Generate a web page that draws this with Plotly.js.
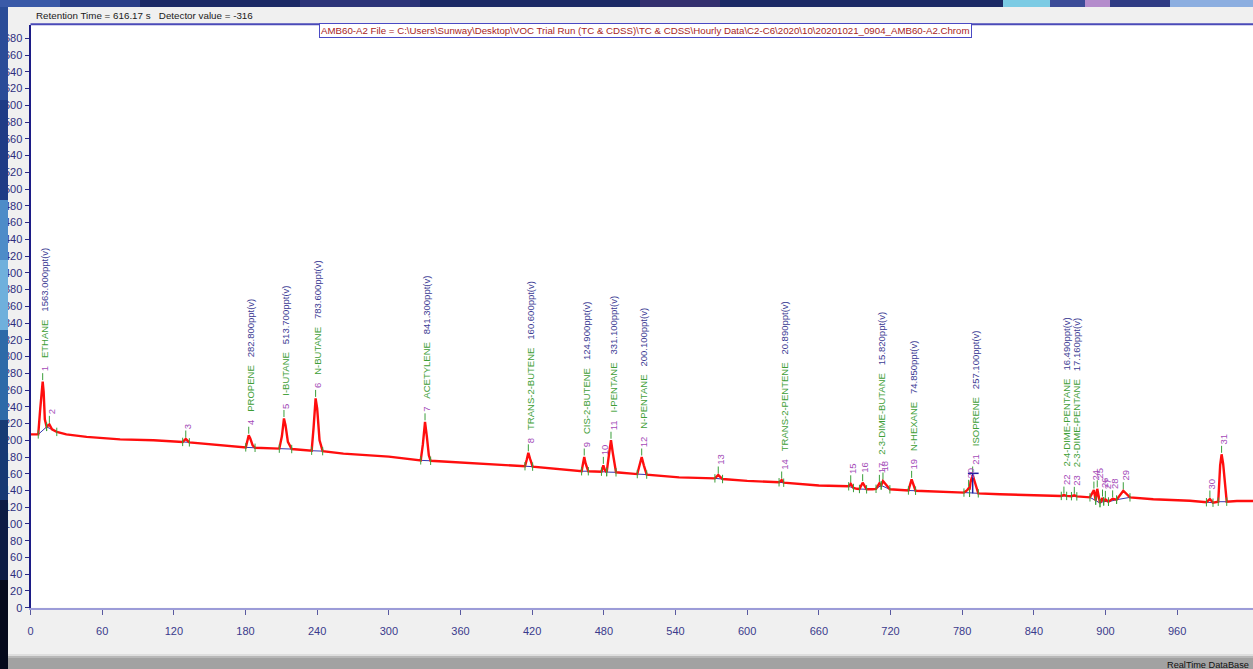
<!DOCTYPE html>
<html>
<head>
<meta charset="utf-8">
<script src="https://cdn.plot.ly/plotly-3.0.1.min.js"></script>
<style>
  html, body { margin: 0; padding: 0; background: #f0f0f0; overflow: hidden; }
  #chart { width: 1253px; height: 669px; }
</style>
</head>
<body>
<div id="chart"></div>
<script>
// ---- Chromatogram trace (retention time s, detector value) ----
const time = [0, 3, 6.5, 8, 9.3, 10.2, 11, 12, 13.5, 15.8, 18, 22, 30, 47, 75, 103,
  127.4, 130, 133, 158.6, 180.2, 181.7, 182.7, 184, 186, 188, 208.3, 210.5, 212.2, 213.5, 215.5, 218.7,
  235.4, 237, 238.7, 240, 242, 244.6, 262, 300, 326.7, 328.5, 330.3, 331.8, 333.5, 335, 365,
  414, 415.5, 416.8, 418.2, 420.4, 461.4, 462.8, 463.6, 464.8, 467, 478, 479.6, 481, 482.4, 484.5, 486, 487.5, 490.2,
  508, 510, 511.7, 513.5, 515.9, 543, 573, 575.8, 579.4, 600, 626.7, 628.9, 630.6, 660, 683, 685, 686.7, 689, 692,
  694, 696.7, 700, 705, 707.9, 710.7, 712.2, 713.7, 716.5, 719.5, 735, 737.7, 741, 760, 781.5, 784, 785.4, 786.2, 787, 788.8, 790.5, 793.5,
  811.6, 840, 863, 865.2, 867.5, 871.5, 873.9, 876, 887, 890.3, 891.8, 893.1, 895.4, 897.5, 898.5, 899.9, 902.5, 906, 909.3, 914.9, 920.5,
  940, 970.7, 984.5, 987.4, 990, 994.4, 996, 997.2, 998.5, 1001.5, 1010, 1023.5];
const signal = [207, 207, 207, 235, 262, 270, 258, 225, 216, 219, 213, 210, 207, 204, 201, 200,
  198, 201.5, 197.5, 194, 191.5, 200, 206, 202, 194, 191, 190, 205, 226, 218, 198, 189.5,
  187.5, 215, 250, 238, 200, 187, 184, 180.5, 176, 195, 222, 205, 182, 175.5, 173,
  169, 177, 185, 178, 168.5, 163, 172, 180, 172, 163, 162.5, 170, 164, 162, 185, 200, 185, 161.7,
  159.6, 172, 180, 170, 159, 155.7, 154.5, 158.5, 153.7, 151.5, 149.8, 152.5, 149.3, 146, 145.3, 145, 148, 143, 142,
  141.8, 149.3, 141.4, 141.5, 142, 148.5, 146, 151.3, 147, 141.4, 140, 153.3, 139.7, 138.5, 137.5, 140, 142.6, 141, 150, 158.5, 150, 136.6,
  135.5, 134.5, 133.5, 134.5, 133.5, 133.2, 134.2, 133, 131.8, 140.5, 128, 142, 125, 131, 127, 129.4, 126.6, 130, 129, 139.7, 131.8,
  129.5, 127.8, 126, 129.8, 125.4, 126.6, 170, 183.2, 172, 126.6, 127.5, 127.5];

// ---- Integrated peaks ----
const peakNumber = [1,2,3,4,5,6,7,8,9,10,11,12,13,14,15,16,17,18,19,20,21,22,23,24,25,26,27,28,29,30,31];
const peakApexTime = [10.2, 15.8, 130, 182.7, 212.2, 238.7, 330.3, 416.8, 463.6, 479.6, 486, 511.7, 575.8, 628.9, 686.7, 696.7,
  710.7, 713.7, 737.7, 785.4, 788.8, 865.2, 873.9, 890.3, 893.1, 897.5, 899.9, 906, 914.9, 987.4, 997.2];
const peakApexValue = [270, 219, 201.5, 206, 226, 250, 222, 185, 180, 170, 200, 180, 158.5, 152.5, 148, 149.3,
  148.5, 151.3, 153.3, 142.6, 158.5, 134.5, 134.2, 140.5, 142, 131, 129.4, 130, 139.7, 129.8, 183.2];
const peakStartTime = [6.5, 13.5, 127.4, 180.2, 208.3, 235.4, 326.7, 414, 461.4, 478, 482.4, 508, 573, 626.7, 685, 694,
  707.9, 712.2, 735, 781.5, 786.2, 863, 871.5, 887, 891.8, 895.4, 898.5, 902.5, 909.3, 984.5, 994.4];
const peakStartValue = [207, 216, 198, 191.5, 190, 187.5, 176, 169, 163, 162.5, 162, 159.6, 154.5, 149.8, 145, 141.8,
  142, 146, 140, 137.5, 137.2, 133.5, 133.2, 131.8, 128, 125, 127, 126.6, 129, 126, 126.6];
const peakEndTime = [13.5, 22, 133, 188, 218.7, 244.6, 335, 420.4, 467, 482.4, 490.2, 515.9, 579.4, 630.6, 689, 700,
  712.2, 719.5, 741, 786.2, 793.5, 867.5, 876, 891.8, 895.4, 898.5, 902.5, 909.3, 920.5, 990, 1001.5];
const peakEndValue = [216, 210, 197.5, 191, 189.5, 187, 175.5, 168.5, 163, 162, 161.7, 159, 153.7, 149.3, 143, 141.4,
  146, 141.4, 139.7, 137.2, 136.6, 133.5, 133, 128, 125, 127, 126.6, 129, 131.8, 125.4, 126.6];
const compoundName = ["ETHANE", "", "", "PROPENE", "I-BUTANE", "N-BUTANE", "ACETYLENE", "TRANS-2-BUTENE", "CIS-2-BUTENE", "",
  "I-PENTANE", "N-PENTANE", "", "TRANS-2-PENTENE", "", "", "2-3-DIME-BUTANE", "", "N-HEXANE", "", "ISOPRENE",
  "2-4-DIME-PENTANE", "2-3-DIME-PENTANE", "", "", "", "", "", "", "", ""];
const concentration = ["1563.000ppt(v)", "", "", "282.800ppt(v)", "513.700ppt(v)", "783.600ppt(v)", "841.300ppt(v)", "160.600ppt(v)",
  "124.900ppt(v)", "", "331.100ppt(v)", "200.100ppt(v)", "", "20.890ppt(v)", "", "", "15.820ppt(v)", "", "74.850ppt(v)", "",
  "257.100ppt(v)", "16.490ppt(v)", "17.160ppt(v)", "", "", "", "", "", "", "", ""];
const selectedPeak = 21;

// ---- Axis ticks ----
const xTickVals = [0, 60, 120, 180, 240, 300, 360, 420, 480, 540, 600, 660, 720, 780, 840, 900, 960];
const yTickVals = [0,20,40,60,80,100,120,140,160,180,200,220,240,260,280,300,320,340,360,380,400,420,440,460,480,500,520,540,560,580,600,620,640,660,680];

const headerText = "Retention Time = 616.17 s\u00a0\u00a0\u00a0Detector value = -316";
const fileText = "AMB60-A2 File = C:\\Users\\Sunway\\Desktop\\VOC Trial Run (TC & CDSS)\\TC & CDSS\\Hourly Data\\C2-C6\\2020\\10\\20201021_0904_AMB60-A2.Chrom";
const statusText = "RealTime DataBase";

// ---- page geometry (pixels) ----
const W = 1253, H = 669;
const plotLeft = 30.5, plotTop = 24.5, plotBottom = 607.7;
const px = v => v / W;
const py = v => 1 - v / H;
const yPxPerUnit = (plotBottom - plotTop) / 696.6;

const NB = "\u00a0\u00a0\u00a0";
const numColor = "#a44cb8", nameColor = "#3e9e36", concColor = "#3c3c94";
const uiFont = 'Liberation Sans Narrow, Arial Narrow, Liberation Sans, Arial, sans-serif';

// baseline segments
const baseX = [], baseY = [];
peakNumber.forEach((n, i) => {
  baseX.push(peakStartTime[i], peakEndTime[i], null);
  baseY.push(peakStartValue[i], peakEndValue[i], null);
});
// boundary ticks
const tickX = peakStartTime.concat(peakEndTime);
const tickY = peakStartValue.concat(peakEndValue);
const apexTickY = peakApexValue.map(v => v + 5 / yPxPerUnit);

const si = peakNumber.indexOf(selectedPeak);
const selX = [peakApexTime[si] - 4, peakApexTime[si] + 5, null, peakApexTime[si], peakApexTime[si]];
const selY = [peakApexValue[si] + 2, peakApexValue[si] + 2, null, peakApexValue[si] + 2, peakEndValue[si]];

const traces = [
  { x: baseX, y: baseY, mode: 'lines', line: { color: '#3838b0', width: 1 }, hoverinfo: 'skip', showlegend: false },
  { x: time, y: signal, mode: 'lines', line: { color: '#ff0e0e', width: 2.4 }, showlegend: false },
  { x: tickX, y: tickY, mode: 'markers', marker: { symbol: 'line-ns', size: 6, line: { color: '#3a9e3a', width: 1 } }, hoverinfo: 'skip', showlegend: false },
  { x: peakApexTime, y: apexTickY, mode: 'markers', marker: { symbol: 'line-ns', size: 5, line: { color: '#3a9e3a', width: 1 } }, hoverinfo: 'skip', showlegend: false },
  { x: selX, y: selY, mode: 'lines', line: { color: '#2020a0', width: 1.5 }, hoverinfo: 'skip', showlegend: false }
];

const annotations = peakNumber.map((n, i) => {
  let t = `<span style="color:${numColor}">${n}</span>`;
  if (compoundName[i]) {
    t += NB + `<span style="color:${nameColor}">${compoundName[i]}</span>` + NB +
         `<span style="color:${concColor}">${concentration[i]}</span>`;
  }
  return {
    x: peakApexTime[i], y: peakApexValue[i], xref: 'x', yref: 'y',
    text: t, showarrow: false, textangle: -90, xanchor: 'center', yanchor: 'bottom',
    yshift: 9, xshift: 2, borderpad: 0,
    font: { family: 'Liberation Sans, Arial, sans-serif', size: 9.5, color: numColor }
  };
});

annotations.push({
  xref: 'paper', yref: 'paper', x: px(35), y: py(15.5), xanchor: 'left', yanchor: 'middle',
  text: headerText, showarrow: false, borderpad: 0,
  font: { family: uiFont, size: 9.8, color: '#1a1a1a' }
});
annotations.push({
  xref: 'paper', yref: 'paper', x: px(645), y: py(31), xanchor: 'center', yanchor: 'middle',
  text: fileText, showarrow: false, borderpad: 1, bgcolor: '#ffffff', bordercolor: '#4a4ac4', borderwidth: 1,
  font: { family: uiFont, size: 9.7, color: '#a82424' }
});
annotations.push({
  xref: 'paper', yref: 'paper', x: px(1250), y: py(658.5), xanchor: 'right', yanchor: 'top',
  text: statusText, showarrow: false, borderpad: 0,
  font: { family: uiFont, size: 9.2, color: '#101010' }
});

const rect = (x0, y0, x1, y1, color) => ({ type: 'rect', xref: 'paper', yref: 'paper', layer: 'above',
  x0: px(x0), x1: px(x1), y0: py(y1), y1: py(y0), fillcolor: color, line: { width: 0 } });

const shapes = [
  // top border of the plot
  { type: 'line', xref: 'paper', yref: 'paper', layer: 'above', x0: px(plotLeft), x1: 1, y0: py(24.3), y1: py(24.3), line: { color: '#4a4ab8', width: 2 } },
  // wallpaper strip at top
  rect(0, 0, 1253, 7, '#1c2a66'),
  rect(0, 0, 60, 7, '#3a5aa8'),
  rect(60, 0, 140, 7, '#2a3f88'),
  rect(300, 0, 420, 7, '#2c3478'),
  rect(640, 0, 720, 7, '#34306e'),
  rect(1003, 0, 1050, 7, '#7ccbe4'),
  rect(1050, 0, 1085, 7, '#3c4c98'),
  rect(1085, 0, 1110, 7, '#b48ccc'),
  rect(1110, 0, 1170, 7, '#303c84'),
  rect(1170, 0, 1253, 7, '#8caee0'),
  // wallpaper strip at left
  rect(0, 7, 8, 100, '#2a4c98'),
  rect(0, 100, 8, 200, '#1e3c86'),
  rect(0, 200, 8, 260, '#4d8cc8'),
  rect(0, 260, 8, 330, '#6fb0dc'),
  rect(0, 330, 8, 420, '#2d6aa8'),
  rect(0, 420, 8, 500, '#163a74'),
  rect(0, 500, 8, 580, '#0c1c44'),
  rect(0, 580, 8, 669, '#050a1c'),
  // status bar at the bottom
  rect(8, 654, 1253, 656, '#dedede'),
  rect(8, 656, 1253, 658, '#b8b8b8'),
  rect(8, 658, 1253, 669, '#a2a2a2')
];

const layout = {
  width: W, height: H,
  margin: { l: 0, r: 0, t: 0, b: 0 },
  paper_bgcolor: '#f0f0f0', plot_bgcolor: '#ffffff',
  showlegend: false,
  xaxis: {
    domain: [px(plotLeft), 1], range: [0, 1023.5], tickvals: xTickVals, ticktext: xTickVals.map(String),
    ticks: 'outside', ticklen: 5, tickwidth: 1, tickcolor: '#5a5aa0', ticklabelstandoff: 7,
    showline: true, linecolor: '#9c9cd8', linewidth: 2, showgrid: false, zeroline: false,
    tickfont: { family: uiFont, size: 11, color: '#3a3a8c' }
  },
  yaxis: {
    domain: [py(plotBottom), py(plotTop)], range: [0, 696.6], tickvals: yTickVals, ticktext: yTickVals.map(String),
    ticks: 'outside', ticklen: 4, tickwidth: 1, tickcolor: '#2a2a84',
    showline: true, linecolor: '#1c1c86', linewidth: 2, showgrid: false, zeroline: false,
    tickfont: { family: uiFont, size: 11, color: '#2e2e7e' }
  },
  annotations: annotations,
  shapes: shapes
};

Plotly.newPlot('chart', traces, layout, { staticPlot: true, displayModeBar: false });
</script>
</body>
</html>
